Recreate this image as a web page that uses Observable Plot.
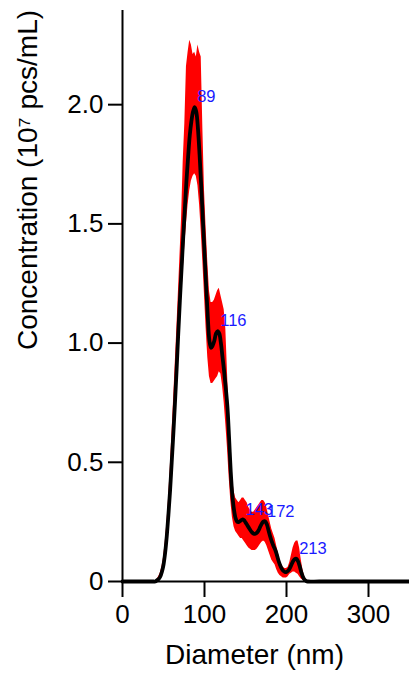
<!DOCTYPE html>
<html>
<head>
<meta charset="utf-8">
<script src="https://cdn.jsdelivr.net/npm/d3@7"></script>
<script src="https://cdn.jsdelivr.net/npm/@observablehq/plot@0.6"></script>
<style>
  html, body { margin: 0; padding: 0; background: #fff; }
  #chart { width: 409px; height: 675px; }
</style>
</head>
<body>
<div id="chart"></div>
<script>
// Diameter (nm)
const diameter = [0, 20, 38, 40, 42, 44, 46, 48, 50, 52, 54, 56, 58, 60, 62, 64, 66, 68, 70, 72, 74, 76, 78, 80, 82, 84, 86, 88, 90, 92, 94, 96, 98, 100, 102, 104, 106, 108, 110, 112, 114, 116, 118, 120, 122, 124, 126, 128, 130, 132, 134, 136, 138, 140, 142, 144, 146, 148, 150, 152, 154, 156, 158, 160, 162, 164, 166, 168, 170, 172, 174, 176, 178, 180, 182, 184, 186, 188, 190, 192, 194, 196, 198, 200, 202, 204, 206, 208, 210, 212, 214, 216, 218, 220, 222, 224, 226, 240, 300, 350];
// Mean concentration (10^7 pcs/mL)
const meanConc = [0, 0, 0, 0, 0.005, 0.01, 0.02, 0.04, 0.07, 0.12, 0.19, 0.28, 0.38, 0.5, 0.62, 0.75, 0.89, 1.04, 1.18, 1.31, 1.44, 1.56, 1.68, 1.78, 1.87, 1.93, 1.97, 1.99, 1.97, 1.9, 1.79, 1.66, 1.52, 1.38, 1.24, 1.11, 1.01, 0.98, 0.99, 1.01, 1.04, 1.05, 1.04, 1.0, 0.94, 0.88, 0.81, 0.73, 0.6, 0.46, 0.36, 0.3, 0.265, 0.25, 0.25, 0.255, 0.26, 0.258, 0.248, 0.237, 0.226, 0.215, 0.206, 0.2, 0.2, 0.205, 0.215, 0.23, 0.243, 0.252, 0.252, 0.24, 0.215, 0.19, 0.168, 0.15, 0.135, 0.115, 0.09, 0.07, 0.055, 0.045, 0.04, 0.04, 0.045, 0.055, 0.07, 0.085, 0.094, 0.095, 0.085, 0.065, 0.04, 0.02, 0.008, 0.002, 0, 0, 0, 0];
// Lower error bound
const lowerConc = [0, 0, 0, 0, 0, 0.005, 0.012, 0.025, 0.05, 0.09, 0.15, 0.23, 0.32, 0.43, 0.54, 0.66, 0.79, 0.93, 1.06, 1.18, 1.3, 1.41, 1.5, 1.58, 1.64, 1.68, 1.7, 1.71, 1.7, 1.66, 1.58, 1.47, 1.34, 1.2, 1.06, 0.94, 0.86, 0.83, 0.83, 0.84, 0.85, 0.86, 0.88, 0.87, 0.82, 0.75, 0.66, 0.56, 0.44, 0.34, 0.27, 0.23, 0.21, 0.2, 0.19, 0.18, 0.18, 0.17, 0.16, 0.15, 0.14, 0.135, 0.13, 0.13, 0.13, 0.135, 0.145, 0.155, 0.165, 0.17, 0.165, 0.15, 0.13, 0.11, 0.09, 0.08, 0.07, 0.05, 0.035, 0.025, 0.02, 0.015, 0.015, 0.015, 0.02, 0.03, 0.035, 0.04, 0.04, 0.035, 0.03, 0.02, 0.01, 0.005, 0, 0, 0, 0, 0, 0];
// Upper error bound
const upperConc = [0, 0, 0, 0, 0.008, 0.02, 0.035, 0.06, 0.1, 0.16, 0.24, 0.34, 0.46, 0.6, 0.74, 0.89, 1.04, 1.2, 1.36, 1.52, 1.76, 1.92, 2.16, 2.22, 2.27, 2.25, 2.21, 2.22, 2.2, 2.25, 2.22, 2.2, 1.9, 1.64, 1.48, 1.34, 1.22, 1.17, 1.17, 1.18, 1.2, 1.22, 1.23, 1.2, 1.17, 1.14, 1.06, 0.88, 0.7, 0.55, 0.44, 0.38, 0.35, 0.34, 0.33, 0.34, 0.35, 0.35, 0.34, 0.33, 0.31, 0.3, 0.29, 0.29, 0.3, 0.31, 0.32, 0.33, 0.34, 0.34, 0.33, 0.31, 0.28, 0.25, 0.22, 0.2, 0.18, 0.15, 0.12, 0.09, 0.07, 0.06, 0.055, 0.055, 0.06, 0.08, 0.11, 0.14, 0.16, 0.17, 0.17, 0.14, 0.09, 0.05, 0.02, 0.005, 0, 0, 0, 0];

// Peak labels
const peakText = ["89", "116", "143", "172", "213"];
const peakX = [88.6, 116.7, 147.5, 173.8, 213];
const peakY = [1.99, 1.05, 0.26, 0.252, 0.095];

// Ticks
const xTicks = [0, 100, 200, 300];
const yTicks = [0, 0.5, 1.0, 1.5, 2.0];
const xTitle = "Diameter (nm)";
const yTitle = "Concentration (10\u2077 pcs/mL)";

const data = diameter.map((d, i) => ({d, mean: meanConc[i], lo: lowerConc[i], hi: upperConc[i]}));
const peaks = peakText.map((t, i) => ({t, x: peakX[i], y: peakY[i]}));

const chart = Plot.plot({
  width: 409,
  height: 675,
  marginLeft: 122,
  marginRight: 0,
  marginTop: 10,
  marginBottom: 94,
  style: {fontFamily: "'Liberation Sans', Arial, sans-serif", background: "#fff", color: "#000", overflow: "visible"},
  x: {domain: [0, 350]},
  y: {domain: [0, 2.395]},
  marks: [
    Plot.areaY(data, {x: "d", y1: "lo", y2: "hi", fill: "#ff0000", curve: "linear"}),
    Plot.lineY(data, {x: "d", y: "mean", stroke: "#000", strokeWidth: 3.8, curve: "catmull-rom"}),
    Plot.ruleX([0], {stroke: "#000", strokeWidth: 2}),
    Plot.ruleY([0], {stroke: "#000", strokeWidth: 2}),
    Plot.axisX({ticks: xTicks, tickSize: 16, tickPadding: 7, fontSize: 26, label: null, strokeWidth: 2, tickFormat: d => String(d)}),
    Plot.axisY({ticks: yTicks, tickSize: 14, tickPadding: 5, fontSize: 26, label: null, strokeWidth: 2, tickFormat: d => d === 0 ? "0" : d.toFixed(1)}),
    Plot.text(peaks, {x: "x", y: "y", text: "t", dx: 2, dy: -10, textAnchor: "start", lineAnchor: "middle", fill: "#1a1aff", fontSize: 16.5}),
    Plot.text([xTitle], {frameAnchor: "bottom", dx: -11.5, dy: 74, lineAnchor: "middle", fontSize: 28, fill: "#000"}),
    Plot.text([yTitle], {frameAnchor: "left", rotate: -90, dx: -94, dy: 54, lineAnchor: "middle", fontSize: 28, fill: "#000"})
  ]
});
document.getElementById("chart").appendChild(chart);
</script>
</body>
</html>
